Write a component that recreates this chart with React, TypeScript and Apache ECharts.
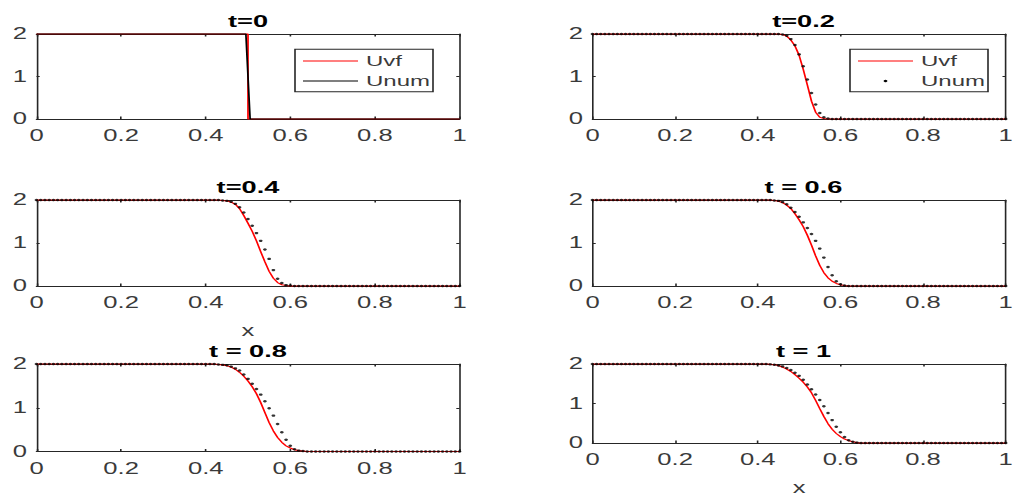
import React, { useEffect, useRef } from "react";
import * as echarts from "echarts";

// The figure is laid out on a narrow canvas and widened with a horizontal scale,
// which gives the wide glyphs, flat dot markers and thick vertical rules of the plot.
const STRETCH = 1.6;
const PAGE_W = 1018;
const PAGE_H = 497;
const CHART_W = PAGE_W / STRETCH;

const FONT = '"Liberation Sans", Arial, Helvetica, sans-serif';
const AXIS_COLOR = "#262626";
const TEXT_COLOR = "#3a3a3a";
const UVF_COLOR = "#ff0000";
const UNUM_COLOR = "#000000";

// spatial grid of the solution: x = i * X_STEP, i = 0..100
const X_STEP = 0.01;

// t = 0 : initial step
const uvfT0: [number, number][] = [[0, 2], [0.5, 2], [0.5, 0], [1, 0]];
const unumT0: [number, number][] = [[0, 2], [0.495, 2], [0.505, 0], [1, 0]];

// t = 0.2
const uvfT02 = [
  2, 2, 2, 2, 2, 2, 2, 2, 2, 2,
  2, 2, 2, 2, 2, 2, 2, 2, 2, 2,
  2, 2, 2, 2, 2, 2, 2, 2, 2, 2,
  2, 2, 2, 2, 2, 2, 2, 2, 2, 2,
  2, 2, 2, 2, 2, 2, 1.99, 1.95, 1.86, 1.72,
  1.5, 1.17, 0.8, 0.42, 0.16, 0.04, 0.01, 0, 0, 0,
  0, 0, 0, 0, 0, 0, 0, 0, 0, 0,
  0, 0, 0, 0, 0, 0, 0, 0, 0, 0,
  0, 0, 0, 0, 0, 0, 0, 0, 0, 0,
  0, 0, 0, 0, 0, 0, 0, 0, 0, 0,
  0,
];
const unumT02 = [
  2, 2, 2, 2, 2, 2, 2, 2, 2, 2,
  2, 2, 2, 2, 2, 2, 2, 2, 2, 2,
  2, 2, 2, 2, 2, 2, 2, 2, 2, 2,
  2, 2, 2, 2, 2, 2, 2, 2, 2, 2,
  2, 2, 2, 2, 2, 2, 1.99, 1.96, 1.88, 1.74,
  1.52, 1.24, 0.93, 0.61, 0.34, 0.14, 0.04, 0.01, 0, 0,
  0, 0, 0, 0, 0, 0, 0, 0, 0, 0,
  0, 0, 0, 0, 0, 0, 0, 0, 0, 0,
  0, 0, 0, 0, 0, 0, 0, 0, 0, 0,
  0, 0, 0, 0, 0, 0, 0, 0, 0, 0,
  0,
];

// t = 0.4
const uvfT04 = [
  2, 2, 2, 2, 2, 2, 2, 2, 2, 2,
  2, 2, 2, 2, 2, 2, 2, 2, 2, 2,
  2, 2, 2, 2, 2, 2, 2, 2, 2, 2,
  2, 2, 2, 2, 2, 2, 2, 2, 2, 2,
  2, 2, 2, 2, 1.99, 1.98, 1.95, 1.9, 1.8, 1.64,
  1.46, 1.27, 1.05, 0.8, 0.56, 0.34, 0.18, 0.08, 0.03, 0.01,
  0, 0, 0, 0, 0, 0, 0, 0, 0, 0,
  0, 0, 0, 0, 0, 0, 0, 0, 0, 0,
  0, 0, 0, 0, 0, 0, 0, 0, 0, 0,
  0, 0, 0, 0, 0, 0, 0, 0, 0, 0,
  0,
];
const unumT04 = [
  2, 2, 2, 2, 2, 2, 2, 2, 2, 2,
  2, 2, 2, 2, 2, 2, 2, 2, 2, 2,
  2, 2, 2, 2, 2, 2, 2, 2, 2, 2,
  2, 2, 2, 2, 2, 2, 2, 2, 2, 2,
  2, 2, 2, 2, 1.99, 1.98, 1.96, 1.91, 1.83, 1.71,
  1.56, 1.4, 1.23, 1.05, 0.85, 0.63, 0.37, 0.17, 0.07, 0.02,
  0.01, 0, 0, 0, 0, 0, 0, 0, 0, 0,
  0, 0, 0, 0, 0, 0, 0, 0, 0, 0,
  0, 0, 0, 0, 0, 0, 0, 0, 0, 0,
  0, 0, 0, 0, 0, 0, 0, 0, 0, 0,
  0,
];

// t = 0.6
const uvfT06 = [
  2, 2, 2, 2, 2, 2, 2, 2, 2, 2,
  2, 2, 2, 2, 2, 2, 2, 2, 2, 2,
  2, 2, 2, 2, 2, 2, 2, 2, 2, 2,
  2, 2, 2, 2, 2, 2, 2, 2, 2, 2,
  2, 2, 2, 2, 1.99, 1.97, 1.94, 1.88, 1.8, 1.68,
  1.54, 1.38, 1.18, 0.95, 0.7, 0.48, 0.31, 0.19, 0.11, 0.06,
  0.03, 0.01, 0, 0, 0, 0, 0, 0, 0, 0,
  0, 0, 0, 0, 0, 0, 0, 0, 0, 0,
  0, 0, 0, 0, 0, 0, 0, 0, 0, 0,
  0, 0, 0, 0, 0, 0, 0, 0, 0, 0,
  0,
];
const unumT06 = [
  2, 2, 2, 2, 2, 2, 2, 2, 2, 2,
  2, 2, 2, 2, 2, 2, 2, 2, 2, 2,
  2, 2, 2, 2, 2, 2, 2, 2, 2, 2,
  2, 2, 2, 2, 2, 2, 2, 2, 2, 2,
  2, 2, 2, 2, 1.99, 1.98, 1.95, 1.9, 1.82, 1.72,
  1.61, 1.48, 1.35, 1.21, 1.05, 0.87, 0.66, 0.44, 0.25, 0.11,
  0.04, 0.01, 0, 0, 0, 0, 0, 0, 0, 0,
  0, 0, 0, 0, 0, 0, 0, 0, 0, 0,
  0, 0, 0, 0, 0, 0, 0, 0, 0, 0,
  0, 0, 0, 0, 0, 0, 0, 0, 0, 0,
  0,
];

// t = 0.8
const uvfT08 = [
  2, 2, 2, 2, 2, 2, 2, 2, 2, 2,
  2, 2, 2, 2, 2, 2, 2, 2, 2, 2,
  2, 2, 2, 2, 2, 2, 2, 2, 2, 2,
  2, 2, 2, 2, 2, 2, 2, 2, 2, 2,
  2, 2, 2, 1.99, 1.98, 1.96, 1.93, 1.88, 1.81, 1.72,
  1.61, 1.48, 1.32, 1.12, 0.89, 0.66, 0.47, 0.32, 0.21, 0.13,
  0.08, 0.04, 0.02, 0.01, 0, 0, 0, 0, 0, 0,
  0, 0, 0, 0, 0, 0, 0, 0, 0, 0,
  0, 0, 0, 0, 0, 0, 0, 0, 0, 0,
  0, 0, 0, 0, 0, 0, 0, 0, 0, 0,
  0,
];
const unumT08 = [
  2, 2, 2, 2, 2, 2, 2, 2, 2, 2,
  2, 2, 2, 2, 2, 2, 2, 2, 2, 2,
  2, 2, 2, 2, 2, 2, 2, 2, 2, 2,
  2, 2, 2, 2, 2, 2, 2, 2, 2, 2,
  2, 2, 2, 1.99, 1.98, 1.97, 1.94, 1.9, 1.85, 1.76,
  1.66, 1.55, 1.43, 1.3, 1.15, 0.99, 0.82, 0.63, 0.44, 0.27,
  0.13, 0.05, 0.02, 0.01, 0, 0, 0, 0, 0, 0,
  0, 0, 0, 0, 0, 0, 0, 0, 0, 0,
  0, 0, 0, 0, 0, 0, 0, 0, 0, 0,
  0, 0, 0, 0, 0, 0, 0, 0, 0, 0,
  0,
];

// t = 1
const uvfT1 = [
  2, 2, 2, 2, 2, 2, 2, 2, 2, 2,
  2, 2, 2, 2, 2, 2, 2, 2, 2, 2,
  2, 2, 2, 2, 2, 2, 2, 2, 2, 2,
  2, 2, 2, 2, 2, 2, 2, 2, 2, 2,
  2, 2, 2, 1.99, 1.98, 1.96, 1.92, 1.87, 1.81, 1.73,
  1.64, 1.54, 1.42, 1.27, 1.08, 0.87, 0.67, 0.49, 0.35, 0.24,
  0.16, 0.1, 0.06, 0.03, 0.01, 0, 0, 0, 0, 0,
  0, 0, 0, 0, 0, 0, 0, 0, 0, 0,
  0, 0, 0, 0, 0, 0, 0, 0, 0, 0,
  0, 0, 0, 0, 0, 0, 0, 0, 0, 0,
  0,
];
const unumT1 = [
  2, 2, 2, 2, 2, 2, 2, 2, 2, 2,
  2, 2, 2, 2, 2, 2, 2, 2, 2, 2,
  2, 2, 2, 2, 2, 2, 2, 2, 2, 2,
  2, 2, 2, 2, 2, 2, 2, 2, 2, 2,
  2, 2, 2, 1.99, 1.98, 1.96, 1.94, 1.9, 1.85, 1.78,
  1.7, 1.6, 1.48, 1.36, 1.23, 1.09, 0.93, 0.76, 0.58, 0.41,
  0.27, 0.15, 0.07, 0.03, 0.01, 0, 0, 0, 0, 0,
  0, 0, 0, 0, 0, 0, 0, 0, 0, 0,
  0, 0, 0, 0, 0, 0, 0, 0, 0, 0,
  0, 0, 0, 0, 0, 0, 0, 0, 0, 0,
  0,
];

const onGrid = (ys: number[]): [number, number][] => ys.map((y, i) => [i * X_STEP, y]);

type Panel = {
  title: string;
  uvf: [number, number][];
  unum: [number, number][];
  unumAsLine: boolean;
  col: number;
  row: number;
  xName?: string;
  legend?: boolean;
};

const PANELS: Panel[] = [
  { title: "t=0", uvf: uvfT0, unum: unumT0, unumAsLine: true, col: 0, row: 0, legend: true },
  { title: "t=0.2", uvf: onGrid(uvfT02), unum: onGrid(unumT02), unumAsLine: false, col: 1, row: 0, legend: true },
  { title: "t=0.4", uvf: onGrid(uvfT04), unum: onGrid(unumT04), unumAsLine: false, col: 0, row: 1, xName: "x" },
  { title: "t = 0.6", uvf: onGrid(uvfT06), unum: onGrid(unumT06), unumAsLine: false, col: 1, row: 1 },
  { title: "t = 0.8", uvf: onGrid(uvfT08), unum: onGrid(unumT08), unumAsLine: false, col: 0, row: 2 },
  { title: "t = 1", uvf: onGrid(uvfT1), unum: onGrid(unumT1), unumAsLine: false, col: 1, row: 2, xName: "x" },
];

// page-pixel frame of each subplot
const COLS = [
  { left: 36.5, right: 459.5 },
  { left: 592.5, right: 1014.5 },
];
const ROWS = [
  { top: 34, bottom: 119, titleY: 21 },
  { top: 200, bottom: 286, titleY: 187 },
  { top: 364, bottom: 451.5, titleY: 351 },
];

const sx = (px: number) => px / STRETCH;

function buildOption(): echarts.EChartsOption {
  const grids: any[] = [];
  const xAxes: any[] = [];
  const yAxes: any[] = [];
  const series: any[] = [];
  const graphics: any[] = [];

  const tickStyle = { color: AXIS_COLOR, width: 1 };
  const labelStyle = { fontFamily: FONT, fontSize: 16, color: TEXT_COLOR };

  PANELS.forEach((p, i) => {
    const c = COLS[p.col];
    const r = ROWS[p.row];
    grids.push({
      left: sx(c.left),
      top: r.top,
      width: sx(c.right - c.left),
      height: r.bottom - r.top,
      containLabel: false,
    });

    const xBase = {
      type: "value",
      gridIndex: i,
      min: 0,
      max: 1,
      interval: 0.2,
      splitLine: { show: false },
      axisLine: { show: true, onZero: false, lineStyle: tickStyle },
      axisTick: { show: true, inside: true, length: 2.5, lineStyle: tickStyle },
    };
    xAxes.push({
      ...xBase,
      position: "bottom",
      axisLabel: { show: true, margin: 9, ...labelStyle },
      name: p.xName,
      nameLocation: "middle",
      nameGap: 37,
      nameTextStyle: { fontFamily: FONT, fontSize: 16, color: TEXT_COLOR },
    });
    xAxes.push({ ...xBase, position: "top", axisLabel: { show: false } });

    const yBase = {
      type: "value",
      gridIndex: i,
      min: 0,
      max: 2,
      interval: 1,
      splitLine: { show: false },
      axisLine: { show: true, onZero: false, lineStyle: tickStyle },
      axisTick: { show: true, inside: true, length: 2, lineStyle: tickStyle },
    };
    yAxes.push({ ...yBase, position: "left", axisLabel: { show: true, margin: 6, ...labelStyle } });
    yAxes.push({ ...yBase, position: "right", axisLabel: { show: false } });

    series.push({
      name: "Uvf",
      type: "line",
      xAxisIndex: 2 * i,
      yAxisIndex: 2 * i,
      data: p.uvf,
      symbol: "none",
      showSymbol: false,
      clip: false,
      silent: true,
      z: 2,
      lineStyle: { color: UVF_COLOR, width: 1.1 },
    });
    if (p.unumAsLine) {
      series.push({
        name: "Unum",
        type: "line",
        xAxisIndex: 2 * i,
        yAxisIndex: 2 * i,
        data: p.unum,
        symbol: "none",
        showSymbol: false,
        clip: false,
        silent: true,
        z: 3,
        lineStyle: { color: UNUM_COLOR, width: 1.1 },
      });
    } else {
      series.push({
        name: "Unum",
        type: "scatter",
        xAxisIndex: 2 * i,
        yAxisIndex: 2 * i,
        data: p.unum,
        symbol: "circle",
        symbolSize: 2.4,
        clip: false,
        silent: true,
        z: 3,
        itemStyle: { color: UNUM_COLOR },
      });
    }

    // subplot title
    graphics.push({
      type: "text",
      silent: true,
      style: {
        text: p.title,
        x: sx((c.left + c.right) / 2),
        y: r.titleY,
        font: `bold 17px ${FONT}`,
        fill: "#000000",
        align: "center",
        verticalAlign: "middle",
        textAlign: "center",
        textVerticalAlign: "middle",
      },
      z: 10,
    });

    // legend box in the upper-right part of the first two subplots
    if (p.legend) {
      const boxLeft = c.right - 164.5;
      const boxTop = 49.3;
      const rows = [
        { name: "Uvf", y: 61 },
        { name: "Unum", y: 81 },
      ];
      graphics.push({
        type: "rect",
        silent: true,
        shape: { x: sx(boxLeft), y: boxTop, width: sx(138), height: 42.4 },
        style: { fill: "#ffffff", stroke: AXIS_COLOR, lineWidth: 1 },
        z: 10,
      });
      graphics.push({
        type: "line",
        silent: true,
        shape: { x1: sx(boxLeft + 8), y1: rows[0].y, x2: sx(boxLeft + 63), y2: rows[0].y },
        style: { stroke: UVF_COLOR, lineWidth: 1.1 },
        z: 11,
      });
      if (p.unumAsLine) {
        graphics.push({
          type: "line",
          silent: true,
          shape: { x1: sx(boxLeft + 8), y1: rows[1].y, x2: sx(boxLeft + 63), y2: rows[1].y },
          style: { stroke: UNUM_COLOR, lineWidth: 1.1 },
          z: 11,
        });
      } else {
        graphics.push({
          type: "circle",
          silent: true,
          shape: { cx: sx(boxLeft + 35.5), cy: rows[1].y, r: 1.2 },
          style: { fill: UNUM_COLOR },
          z: 11,
        });
      }
      rows.forEach((row) => {
        graphics.push({
          type: "text",
          silent: true,
          style: {
            text: row.name,
            x: sx(boxLeft + 71),
            y: row.y,
            font: `15px ${FONT}`,
            fill: TEXT_COLOR,
            align: "left",
            verticalAlign: "middle",
            textAlign: "left",
            textVerticalAlign: "middle",
          },
          z: 11,
        });
      });
    }
  });

  return {
    animation: false,
    backgroundColor: "#ffffff",
    grid: grids,
    xAxis: xAxes,
    yAxis: yAxes,
    series,
    graphic: graphics,
  } as echarts.EChartsOption;
}

export default function App() {
  const ref = useRef<HTMLDivElement>(null);

  useEffect(() => {
    if (!ref.current) return;
    const chart = echarts.init(ref.current, undefined, { renderer: "svg" });
    chart.setOption(buildOption());
    return () => chart.dispose();
  }, []);

  return (
    <div
      style={{
        position: "fixed",
        left: 0,
        top: 0,
        width: PAGE_W,
        height: PAGE_H,
        overflow: "hidden",
        background: "#ffffff",
      }}
    >
      <div
        ref={ref}
        style={{
          width: CHART_W,
          height: PAGE_H,
          transform: `scaleX(${STRETCH})`,
          transformOrigin: "0 0",
        }}
      />
    </div>
  );
}
